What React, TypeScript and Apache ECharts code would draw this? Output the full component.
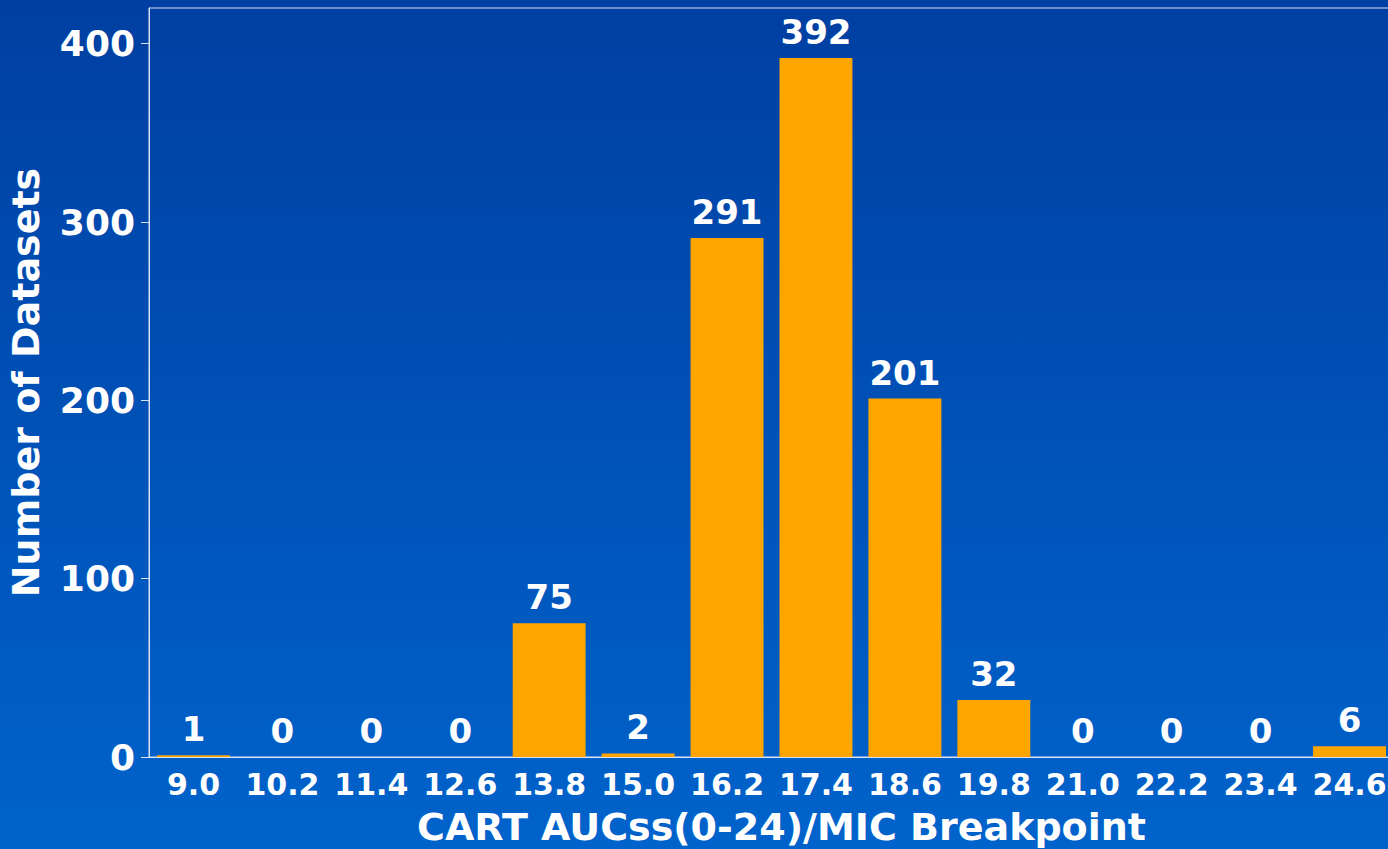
import React, { useEffect, useRef } from "react";
import * as echarts from "echarts";

// Breakpoint bins (x) and number of datasets in each bin
const breakpoints = ["9.0", "10.2", "11.4", "12.6", "13.8", "15.0", "16.2", "17.4", "18.6", "19.8", "21.0", "22.2", "23.4", "24.6"];
const datasetCounts = [1, 0, 0, 0, 75, 2, 291, 392, 201, 32, 0, 0, 0, 6];
const yTicks = { min: 0, max: 420, interval: 100 };

const FONT = "'DejaVu Sans', 'Liberation Sans', Arial, sans-serif";

export default function App() {
  const ref = useRef<HTMLDivElement>(null);

  useEffect(() => {
    if (!ref.current) return;
    const chart = echarts.init(ref.current, null, { renderer: "svg" });
    chart.setOption({
      animation: false,
      backgroundColor: new echarts.graphic.LinearGradient(0, 0, 0, 1, [
        { offset: 0, color: "#003fa2" },
        { offset: 1, color: "#0063cb" },
      ]),
      grid: {
        left: 149,
        right: 6,
        top: 8,
        bottom: 92,
        outerBoundsMode: "none",
        containLabel: false,
        show: true,
        borderColor: "#d8e2f6",
        borderWidth: 1,
        backgroundColor: "transparent",
      },
      xAxis: {
        type: "category",
        data: breakpoints,
        name: "CART AUCss(0-24)/MIC Breakpoint",
        nameLocation: "middle",
        nameGap: 51,
        nameTextStyle: { color: "#ffffff", fontFamily: FONT, fontWeight: "bold", fontSize: 38, padding: [0, 0, 0, 20] },
        axisLine: { lineStyle: { color: "#d8e2f6", width: 1 } },
        axisTick: { show: false },
        axisLabel: { color: "#ffffff", fontFamily: FONT, fontWeight: "bold", fontSize: 30, margin: 12, interval: 0 },
        splitLine: { show: false },
      },
      yAxis: {
        type: "value",
        min: yTicks.min,
        max: yTicks.max,
        interval: yTicks.interval,
        name: "Number of Datasets",
        nameLocation: "middle",
        nameGap: 104,
        nameTextStyle: { color: "#ffffff", fontFamily: FONT, fontWeight: "bold", fontSize: 38 },
        axisLine: { show: true, lineStyle: { color: "#d8e2f6", width: 1 } },
        axisTick: { show: true, length: 8, lineStyle: { color: "#d8e2f6" } },
        axisLabel: { color: "#ffffff", fontFamily: FONT, fontWeight: "bold", fontSize: 36, margin: 14, showMaxLabel: false },
        splitLine: { show: false },
      },
      series: [
        {
          type: "bar",
          data: datasetCounts,
          barCategoryGap: "18%",
          itemStyle: { color: "#ffa500" },
          label: {
            show: true,
            position: "top",
            distance: 9,
            color: "#ffffff",
            fontFamily: FONT,
            fontWeight: "bold",
            fontSize: 34,
          },
        },
      ],
    });
    return () => chart.dispose();
  }, []);

  return (
    <div style={{ position: "fixed", left: 0, top: 0, width: 1388, height: 849, overflow: "hidden" }}>
      <div ref={ref} style={{ width: 1400, height: 849 }} />
    </div>
  );
}
